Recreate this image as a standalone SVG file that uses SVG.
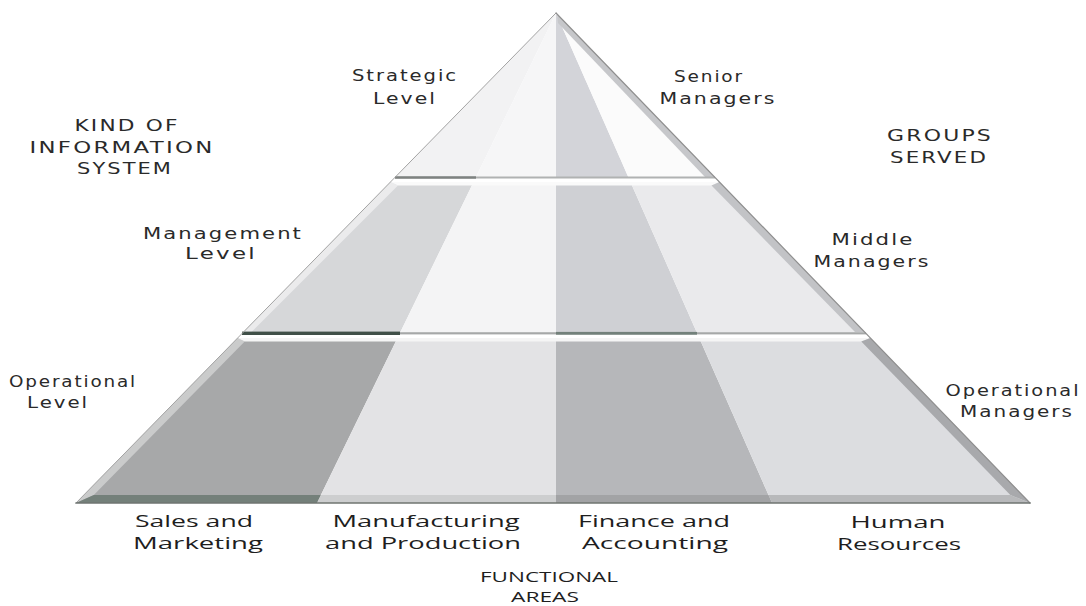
<svg xmlns="http://www.w3.org/2000/svg" width="1086" height="606" viewBox="0 0 1086 606">
  <defs>
    <style>
      .lv { font-family: "DejaVu Sans", "Liberation Sans", sans-serif; font-size: 15px; fill: #2a2a2a; letter-spacing: 1.5px; }
      .fa { font-family: "Open Sans", "Liberation Sans", sans-serif; font-size: 17px; fill: #1e1e1e; }
      .fa-title { font-family: "Open Sans", "Liberation Sans", sans-serif; font-size: 14.5px; fill: #1e1e1e; }
      .edge { fill: none; stroke-linecap: round; }
    </style>
    <!-- horizontal bands, one for each tier -->
    <clipPath id="band-top"><rect x="0" y="13" width="1086" height="164"/></clipPath>
    <clipPath id="band-mid"><rect x="0" y="182" width="1086" height="150"/></clipPath>
    <clipPath id="band-bot"><rect x="0" y="338" width="1086" height="165"/></clipPath>
    <!-- four functional columns, all fanning out from the apex -->
    <polygon id="col-sales" points="556,13 76,503 317,503"/>
    <polygon id="col-manuf" points="556,13 317,503 556,503"/>
    <polygon id="col-fin" points="556,13 556,503 772,503"/>
    <polygon id="col-hr" points="556,13 772,503 1030,503"/>
  </defs>

  <rect width="1086" height="606" fill="#ffffff"/>

  <!-- Strategic tier -->
  <g id="tier-strategic">
    <g clip-path="url(#band-top)">
      <use href="#col-sales" fill="#f2f2f3"/>
      <use href="#col-manuf" fill="#f6f6f7"/>
      <use href="#col-fin" fill="#d3d4d9"/>
      <use href="#col-hr" fill="#fbfbfb"/>
    </g>
    <polygon points="557,14 714.6,177 705,177 558,23" fill="#c6c7ca"/>
    <rect x="395" y="176.5" width="320" height="2" fill="#b0b2b2"/>
    <rect x="395" y="176.3" width="81" height="2.4" fill="#7e8280"/>
  </g>

  <!-- Management tier -->
  <g id="tier-management">
    <g clip-path="url(#band-mid)">
      <use href="#col-sales" fill="#d6d7d9"/>
      <use href="#col-manuf" fill="#f4f4f5"/>
      <use href="#col-fin" fill="#cfd0d4"/>
      <use href="#col-hr" fill="#eaeaec"/>
    </g>
    <polygon points="390.4,182 719.5,182 711.5,185.5 398,185.5" fill="#fafafa"/>
    <polygon points="390.4,182 398,185.5 251.5,332 243.5,332" fill="#ffffff" fill-opacity="0.5"/>
    <polygon points="719.5,182 864.6,332 855,332 711.5,185.5" fill="#c2c3c6"/>
    <rect x="242" y="332.2" width="624" height="2.2" fill="#a6a8a8"/>
    <rect x="242" y="331.6" width="158" height="3.4" fill="#3f4f47"/>
    <rect x="556" y="331.9" width="141" height="2.8" fill="#72807a"/>
  </g>

  <!-- Operational tier -->
  <g id="tier-operational">
    <g clip-path="url(#band-bot)">
      <use href="#col-sales" fill="#a7a8a9"/>
      <use href="#col-manuf" fill="#e3e3e5"/>
      <use href="#col-fin" fill="#b6b7ba"/>
      <use href="#col-hr" fill="#dcdde0"/>
    </g>
    <!-- bevelled rims of the slab -->
    <polygon points="237.6,338 870.4,338 861.3,341.5 244.7,341.5" fill="#f5f5f5"/>
    <polygon points="76,503 237.6,338 244.7,341.5 93.8,495" fill="#ffffff" fill-opacity="0.4"/>
    <polygon points="870.4,338 1030,503 1010.3,495 861.3,341.5" fill="#a8a9ac"/>
    <polygon points="76,503 93.8,495 320.9,495 317,503" fill="#74807a"/>
    <polygon points="317,503 320.9,495 556,495 556,503" fill="#cdcecf"/>
    <polygon points="556,503 556,495 768.5,495 772,503" fill="#a2a3a5"/>
    <polygon points="772,503 768.5,495 1010.3,495 1030,503" fill="#b8b9bb"/>
  </g>

  <!-- outer outline of the pyramid -->
  <g id="outline">
    <path class="edge" d="M556 13 L76 503" stroke="#a3a3a3" stroke-width="1"/>
    <path class="edge" d="M556 13 L1030 503" stroke="#8f8f8f" stroke-width="1.2"/>
    <path class="edge" d="M76 503 L1030 503" stroke="#6f7471" stroke-width="1.6"/>
  </g>

  <!-- kinds of information system -->
  <g id="labels-levels">
    <text class="lv" x="127" y="131" text-anchor="middle" textLength="105" lengthAdjust="spacingAndGlyphs">KIND OF</text>
    <text class="lv" x="122" y="153" text-anchor="middle" textLength="185" lengthAdjust="spacingAndGlyphs">INFORMATION</text>
    <text class="lv" x="125" y="174" text-anchor="middle" textLength="96" lengthAdjust="spacingAndGlyphs">SYSTEM</text>
    <text class="lv" x="405" y="81" text-anchor="middle" textLength="106" lengthAdjust="spacingAndGlyphs">Strategic</text>
    <text class="lv" x="405" y="104" text-anchor="middle" textLength="64" lengthAdjust="spacingAndGlyphs">Level</text>
    <text class="lv" x="223" y="239" text-anchor="middle" textLength="160" lengthAdjust="spacingAndGlyphs">Management</text>
    <text class="lv" x="221" y="259" text-anchor="middle" textLength="72" lengthAdjust="spacingAndGlyphs">Level</text>
    <text class="lv" x="73" y="387" text-anchor="middle" textLength="128" lengthAdjust="spacingAndGlyphs">Operational</text>
    <text class="lv" x="58" y="408" text-anchor="middle" textLength="62" lengthAdjust="spacingAndGlyphs">Level</text>
  </g>

  <!-- groups served -->
  <g id="labels-groups">
    <text class="lv" x="709" y="82" text-anchor="middle" textLength="70" lengthAdjust="spacingAndGlyphs">Senior</text>
    <text class="lv" x="718" y="104" text-anchor="middle" textLength="117" lengthAdjust="spacingAndGlyphs">Managers</text>
    <text class="lv" x="940" y="141" text-anchor="middle" textLength="106" lengthAdjust="spacingAndGlyphs">GROUPS</text>
    <text class="lv" x="939" y="163" text-anchor="middle" textLength="98" lengthAdjust="spacingAndGlyphs">SERVED</text>
    <text class="lv" x="873" y="245" text-anchor="middle" textLength="83" lengthAdjust="spacingAndGlyphs">Middle</text>
    <text class="lv" x="872" y="267" text-anchor="middle" textLength="117" lengthAdjust="spacingAndGlyphs">Managers</text>
    <text class="lv" x="1013" y="396" text-anchor="middle" textLength="135" lengthAdjust="spacingAndGlyphs">Operational</text>
    <text class="lv" x="1017" y="417" text-anchor="middle" textLength="114" lengthAdjust="spacingAndGlyphs">Managers</text>
  </g>

  <!-- functional areas -->
  <g id="labels-areas">
    <text class="fa" x="194" y="527" text-anchor="middle" textLength="118" lengthAdjust="spacingAndGlyphs">Sales and</text>
    <text class="fa" x="198" y="549" text-anchor="middle" textLength="130" lengthAdjust="spacingAndGlyphs">Marketing</text>
    <text class="fa" x="426" y="527" text-anchor="middle" textLength="187" lengthAdjust="spacingAndGlyphs">Manufacturing</text>
    <text class="fa" x="423" y="549" text-anchor="middle" textLength="196" lengthAdjust="spacingAndGlyphs">and Production</text>
    <text class="fa" x="654" y="527" text-anchor="middle" textLength="152" lengthAdjust="spacingAndGlyphs">Finance and</text>
    <text class="fa" x="655" y="549" text-anchor="middle" textLength="146" lengthAdjust="spacingAndGlyphs">Accounting</text>
    <text class="fa" x="898" y="528" text-anchor="middle" textLength="95" lengthAdjust="spacingAndGlyphs">Human</text>
    <text class="fa" x="899" y="550" text-anchor="middle" textLength="124" lengthAdjust="spacingAndGlyphs">Resources</text>
    <text class="fa-title" x="549" y="582" text-anchor="middle" textLength="138" lengthAdjust="spacingAndGlyphs">FUNCTIONAL</text>
    <text class="fa-title" x="545" y="602" text-anchor="middle" textLength="68" lengthAdjust="spacingAndGlyphs">AREAS</text>
  </g>
</svg>
